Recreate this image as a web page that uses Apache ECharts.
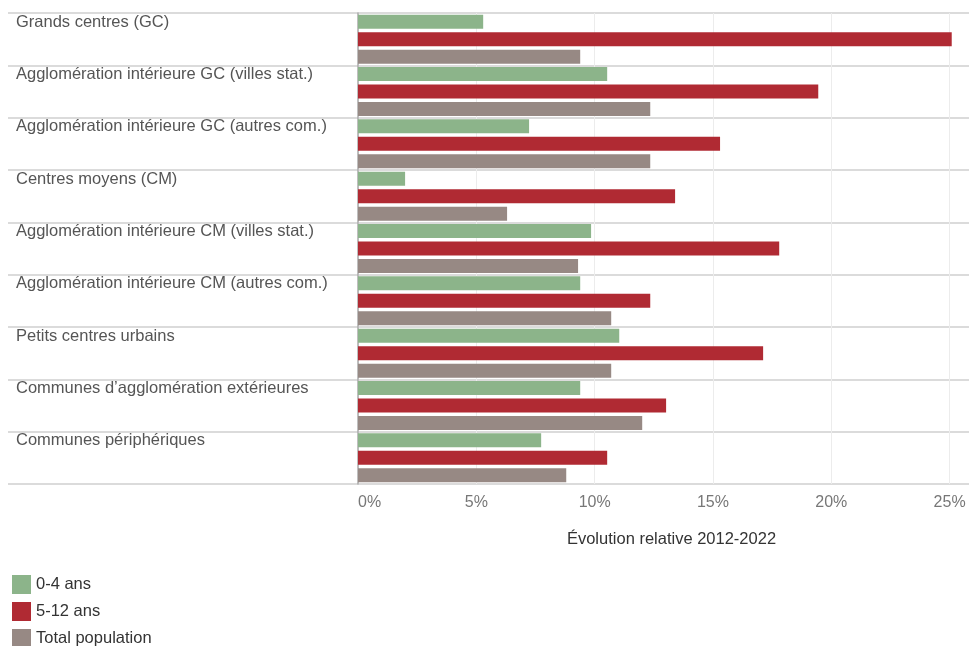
<!DOCTYPE html>
<html>
<head>
<meta charset="utf-8">
<script src="https://cdn.jsdelivr.net/npm/echarts@6/dist/echarts.min.js"></script>
<style>html,body{margin:0;padding:0;background:#fff}#c{width:969px;height:646px}</style>
</head>
<body>
<div id="c"></div>
<script>
const categories = [
  'Grands centres (GC)',
  'Agglomération intérieure GC (villes stat.)',
  'Agglomération intérieure GC (autres com.)',
  'Centres moyens (CM)',
  'Agglomération intérieure CM (villes stat.)',
  'Agglomération intérieure CM (autres com.)',
  'Petits centres urbains',
  'Communes d’agglomération extérieures',
  'Communes périphériques'
];
const seriesNames = ['0-4 ans', '5-12 ans', 'Total population'];
const ages0to4 = [5.29, 10.53, 7.23, 1.99, 9.85, 9.39, 11.04, 9.39, 7.74];
const ages5to12 = [25.09, 19.45, 15.30, 13.40, 17.80, 12.35, 17.12, 13.02, 10.53];
const totalPop = [9.39, 12.35, 12.35, 6.30, 9.30, 10.70, 10.70, 12.01, 8.80];
const xTicks = [0, 5, 10, 15, 20, 25];
const axisTitle = 'Évolution relative 2012-2022';
const colors = ['#8cb48a', '#b02a33', '#978984'];

const chart = echarts.init(document.getElementById('c'), null, {renderer: 'canvas'});
const FONT = 'Liberation Sans, Arial, sans-serif';
const mkBar = (name, data, color) => ({
  name, type: 'bar', data, xAxisIndex: 0, yAxisIndex: 0,
  barWidth: 14, barGap: '25%', itemStyle: {color}, silent: true
});
chart.setOption({
  animation: false,
  textStyle: {fontFamily: FONT},
  grid: [
    {left: 358, right: 0, top: 13, bottom: 162},
    {left: 8, right: 0, top: 13, bottom: 162}
  ],
  legend: {
    orient: 'vertical', left: 12, top: 575, height: 90, itemWidth: 19, itemHeight: 19, itemGap: 8,
    padding: 0, icon: 'rect', data: seriesNames,
    textStyle: {fontSize: 16.5, color: '#333', fontFamily: FONT}
  },
  xAxis: [
    {
      type: 'value', gridIndex: 0, min: 0, max: 25.82, interval: 5,
      axisLine: {show: false}, axisTick: {show: false},
      splitLine: {show: true, showMaxLine: false, lineStyle: {color: '#ececec', width: 1}},
      axisLabel: {
        fontSize: 16, color: '#777', margin: 11, alignMinLabel: 'left', showMaxLabel: false,
        formatter: v => (xTicks.indexOf(v) >= 0 ? v + '%' : '')
      },
      name: axisTitle, nameLocation: 'middle', nameGap: 47,
      nameTextStyle: {fontSize: 16.5, color: '#333', padding: [0, 0, 0, 16]}
    },
    {type: 'value', gridIndex: 1, show: false, min: 0, max: 1}
  ],
  yAxis: [
    {
      type: 'category', gridIndex: 0, data: categories, inverse: true,
      axisLabel: {show: false}, axisTick: {show: false},
      axisLine: {show: true, lineStyle: {color: '#aaa', width: 1.5}},
      splitLine: {show: false}
    },
    {
      type: 'category', gridIndex: 1, data: categories, inverse: true,
      axisTick: {show: false}, axisLine: {show: false},
      splitLine: {show: true, lineStyle: {color: '#cfcfcf', width: 1.5}},
      axisLabel: {
        inside: true, margin: 8, align: 'left',
        formatter: v => '{a|' + v + '}\n{b|}',
        rich: {
          a: {fontSize: 16.5, lineHeight: 20, color: '#555', fontFamily: FONT},
          b: {height: 34, lineHeight: 34}
        }
      }
    }
  ],
  series: [
    mkBar(seriesNames[0], ages0to4, colors[0]),
    mkBar(seriesNames[1], ages5to12, colors[1]),
    mkBar(seriesNames[2], totalPop, colors[2])
  ]
});
</script>
</body>
</html>
